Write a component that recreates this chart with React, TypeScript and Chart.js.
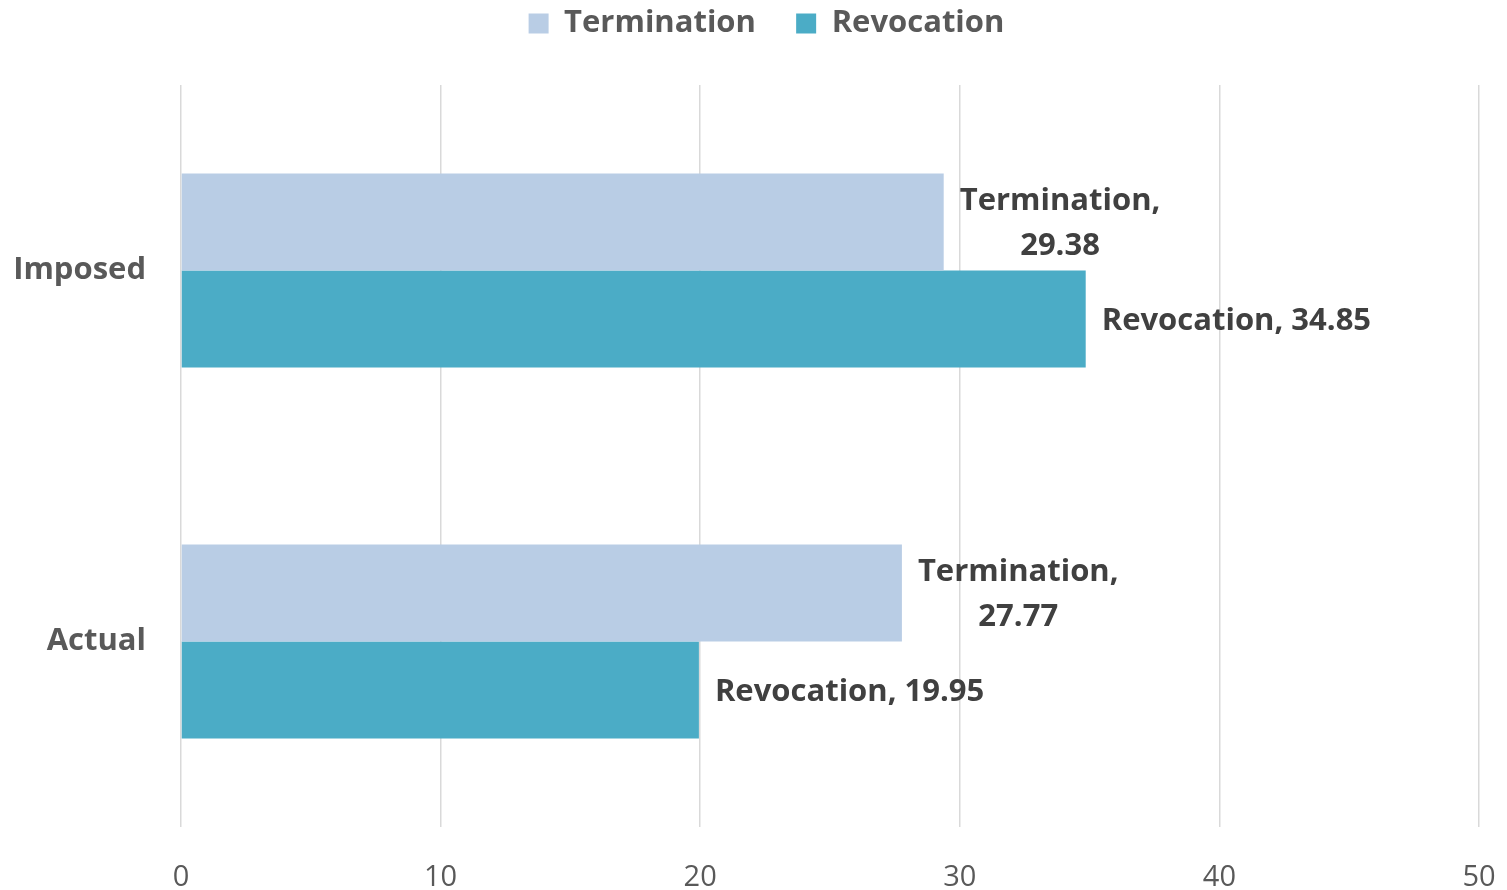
import React, { useEffect, useRef } from "react";
import { Chart, registerables } from "chart.js";

Chart.register(...registerables);

const categories = ["Imposed", "Actual"];
const terminationValues = [29.38, 27.77];
const revocationValues = [34.85, 19.95];
const seriesNames = ["Termination", "Revocation"];
const xTicks = [0, 10, 20, 30, 40, 50];

const FONT = "'Open Sans', 'Liberation Sans', sans-serif";

const labelPlugin = {
  id: "barLabels",
  afterInit(chart: any) {
    const lg = chart.legend;
    if (lg) {
      const orig = lg.fit.bind(lg);
      lg.fit = () => {
        orig();
        lg.height = 85;
      };
    }
  },
  afterLayout(chart: any) {
    const lg = chart.legend;
    if (lg) {
      lg.left += 54;
    }
  },
  afterDatasetsDraw(chart: any) {
    const ctx = chart.ctx;
    ctx.save();
    ctx.font = `bold 31px ${FONT}`;
    ctx.fillStyle = "#404040";
    ctx.textBaseline = "middle";
    chart.data.datasets.forEach((ds: any, di: number) => {
      const meta = chart.getDatasetMeta(di);
      meta.data.forEach((bar: any, i: number) => {
        const v = ds.data[i];
        const text = `${ds.label}, ${v.toFixed(2)}`;
        const x0 = bar.x + 16;
        if (ds.wrapLabel) {
          const l1 = `${ds.label},`;
          const l2 = v.toFixed(2);
          const w = ctx.measureText(l1).width;
          const cx = x0 + w / 2;
          ctx.textAlign = "center";
          ctx.fillText(l1, cx, bar.y - 21);
          ctx.fillText(l2, cx, bar.y + 24);
        } else {
          ctx.textAlign = "left";
          ctx.fillText(text, x0, bar.y + 2);
        }
      });
    });
    ctx.restore();
  },
};

export default function App() {
  const ref = useRef<HTMLCanvasElement>(null);
  useEffect(() => {
    document.body.style.margin = "0";
    const chart = new Chart(ref.current!, {
      type: "bar",
      data: {
        labels: categories,
        datasets: [
          {
            label: seriesNames[0],
            data: terminationValues,
            backgroundColor: "#B9CDE5",
            borderWidth: 0,
            categoryPercentage: 0.523,
            barPercentage: 1,
            wrapLabel: true,
          } as any,
          {
            label: seriesNames[1],
            data: revocationValues,
            backgroundColor: "#4BACC6",
            borderWidth: 0,
            categoryPercentage: 0.523,
            barPercentage: 1,
          } as any,
        ],
      },
      options: {
        indexAxis: "y",
        animation: false,
        responsive: false,
        layout: { padding: { top: 0, right: 28, left: 0, bottom: 0 } },
        plugins: {
          tooltip: { enabled: false },
          legend: {
            position: "top",
            labels: {
              font: { family: FONT, size: 31, weight: "bold" },
              color: "#595959",
              boxWidth: 20,
              boxHeight: 20,
              padding: 8,
              generateLabels(chart: any) {
                const items = Chart.defaults.plugins.legend.labels.generateLabels(chart);
                return items.map((it: any, i: number) => ({
                  ...it,
                  lineWidth: 0,
                  text: i < items.length - 1 ? it.text + "    " : it.text,
                }));
              },
            },
          },
        },
        scales: {
          x: {
            min: 0,
            max: 50,
            afterBuildTicks(axis: any) {
              axis.ticks = xTicks.map((v) => ({ value: v }));
            },
            afterFit(axis: any) {
              axis.height = 63;
              axis.paddingLeft = 0;
              axis.paddingRight = 0;
            },
            grid: { color: "#D9D9D9", lineWidth: 1.5, drawTicks: false },
            border: { display: false },
            ticks: {
              font: { family: FONT, size: 29 },
              color: "#595959",
              padding: 33,
            },
          },
          y: {
            afterFit(axis: any) {
              axis.width = 181;
            },
            grid: { display: false },
            border: { display: false },
            ticks: {
              font: { family: FONT, size: 31, weight: "bold" },
              color: "#595959",
              padding: 27,
            },
          },
        },
      },
      plugins: [labelPlugin],
    });
    return () => chart.destroy();
  }, []);
  return <canvas ref={ref} width={1507} height={890} />;
}
